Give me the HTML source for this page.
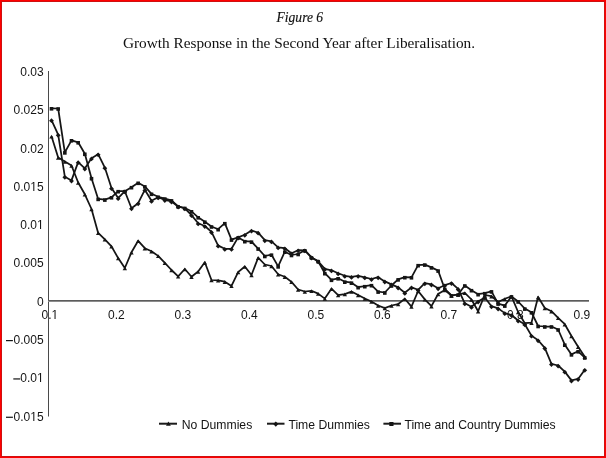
<!DOCTYPE html>
<html><head><meta charset="utf-8"><style>
html,body{margin:0;padding:0;background:#fff}
body{width:606px;height:458px;overflow:hidden;position:relative}
svg{position:absolute;left:0;top:0;will-change:transform}
</style></head><body>
<svg width="606" height="458" viewBox="0 0 606 458">
<rect x="0" y="0" width="606" height="458" fill="#fff"/>
<rect x="0.5" y="0.5" width="605" height="457" fill="none" stroke="#f00" stroke-width="1"/>
<rect x="1.5" y="1.5" width="603" height="455" fill="none" stroke="#d01010" stroke-width="1"/>
<text transform="translate(299.8 21.7) scale(0.91 1)" x="0" y="0" text-anchor="middle" font-family="'Liberation Serif', serif" font-style="italic" font-size="14.9" fill="#111" stroke="#111" stroke-width="0.15">Figure 6</text>
<text x="299" y="48.2" text-anchor="middle" font-family="'Liberation Serif', serif" font-size="15.3" fill="#111">Growth Response in the Second Year after Liberalisation.</text>
<g font-family="'Liberation Sans', sans-serif" font-size="12" fill="#141414"><text x="43.6" y="75.8" text-anchor="end">0.03</text><text x="43.6" y="114.1" text-anchor="end">0.025</text><text x="43.6" y="152.5" text-anchor="end">0.02</text><text x="43.6" y="190.8" text-anchor="end">0.015</text><text x="43.6" y="229.1" text-anchor="end">0.01</text><text x="43.6" y="267.4" text-anchor="end">0.005</text><text x="43.6" y="305.8" text-anchor="end">0</text><text x="43.6" y="344.1" text-anchor="end">0.005</text><rect x="6.0" y="340.01" width="6.9" height="1.2"/><text x="43.6" y="382.4" text-anchor="end">0.01</text><rect x="13.3" y="378.34" width="6.9" height="1.2"/><text x="43.6" y="420.8" text-anchor="end">0.015</text><rect x="6.0" y="416.67" width="6.9" height="1.2"/><text x="49.8" y="319" text-anchor="middle">0.1</text><text x="116.3" y="319" text-anchor="middle">0.2</text><text x="182.8" y="319" text-anchor="middle">0.3</text><text x="249.3" y="319" text-anchor="middle">0.4</text><text x="315.8" y="319" text-anchor="middle">0.5</text><text x="382.3" y="319" text-anchor="middle">0.6</text><text x="448.8" y="319" text-anchor="middle">0.7</text><text x="515.3" y="319" text-anchor="middle">0.8</text><text x="581.8" y="319" text-anchor="middle">0.9</text></g>
<rect x="48" y="71" width="1" height="345.5" fill="#4a4a4a"/>
<rect x="48" y="300" width="541" height="1" fill="#5c5c5c"/><rect x="48" y="301" width="541" height="1" fill="#8c8c8c"/>
<g fill="none" stroke="#151515" stroke-width="1.75" stroke-linejoin="round">
<polyline points="51.50,108.30 58.17,108.50 64.83,152.40 71.50,140.30 78.16,142.30 84.83,153.80 91.50,178.20 98.16,198.90 104.83,199.60 111.49,197.30 118.16,191.20 124.83,191.20 131.49,187.20 138.16,182.80 144.82,186.40 151.49,193.80 158.16,196.80 164.82,198.60 171.49,200.40 178.15,206.40 184.82,208.00 191.49,211.30 198.15,217.30 204.82,221.70 211.48,226.50 218.15,229.20 224.82,223.20 231.48,239.60 238.15,237.40 244.81,241.20 251.48,241.70 258.15,248.60 264.81,256.00 271.48,254.70 278.14,266.40 284.81,251.70 291.48,255.00 298.14,254.00 304.81,250.30 311.47,257.40 318.14,261.20 324.81,273.20 331.47,279.80 338.14,278.30 344.80,281.70 351.47,282.70 358.14,287.20 364.80,286.20 371.47,285.20 378.13,291.60 384.80,292.50 391.47,285.50 398.13,279.40 404.80,277.20 411.46,277.30 418.13,265.20 424.80,264.60 431.46,267.40 438.13,270.60 444.79,289.00 451.46,295.50 458.13,294.50 464.79,285.50 471.46,290.20 478.12,294.20 484.79,293.20 491.46,291.40 498.12,303.60 504.79,305.60 511.45,296.40 518.12,301.50 524.79,308.60 531.45,312.30 538.12,326.00 544.78,326.50 551.45,326.50 558.12,329.50 564.78,344.70 571.45,354.40 578.11,351.30 584.78,357.50"/>
<polyline points="51.50,120.10 58.17,134.70 64.83,176.70 71.50,180.40 78.16,162.10 84.83,168.40 91.50,158.30 98.16,154.20 104.83,167.60 111.49,188.10 118.16,198.10 124.83,191.20 131.49,208.20 138.16,203.20 144.82,189.80 151.49,200.80 158.16,197.30 164.82,199.90 171.49,201.50 178.15,206.50 184.82,208.30 191.49,215.10 198.15,223.30 204.82,226.00 211.48,231.90 218.15,245.60 224.82,248.80 231.48,248.80 238.15,237.40 244.81,234.70 251.48,230.60 258.15,232.60 264.81,240.20 271.48,241.30 278.14,247.30 284.81,248.20 291.48,253.30 298.14,250.20 304.81,250.30 311.47,257.40 318.14,261.20 324.81,268.90 331.47,270.30 338.14,273.30 344.80,275.80 351.47,276.80 358.14,275.80 364.80,277.30 371.47,279.00 378.13,277.20 384.80,281.40 391.47,284.40 398.13,287.40 404.80,292.80 411.46,287.40 418.13,289.80 424.80,283.20 431.46,284.40 438.13,288.20 444.79,285.20 451.46,283.00 458.13,288.90 464.79,303.30 471.46,306.80 478.12,301.50 484.79,297.50 491.46,306.20 498.12,308.40 504.79,313.10 511.45,315.00 518.12,320.50 524.79,324.20 531.45,335.60 538.12,340.20 544.78,347.90 551.45,363.90 558.12,365.50 564.78,371.60 571.45,380.40 578.11,378.90 584.78,369.70"/>
<polyline points="51.50,136.30 58.17,157.60 64.83,161.60 71.50,165.50 78.16,182.50 84.83,194.30 91.50,209.00 98.16,232.90 104.83,239.40 111.49,246.40 118.16,258.10 124.83,268.00 131.49,252.30 138.16,240.80 144.82,248.20 151.49,251.30 158.16,255.90 164.82,262.80 171.49,270.00 178.15,276.30 184.82,269.00 191.49,276.70 198.15,271.50 204.82,262.30 211.48,280.00 218.15,280.40 224.82,281.70 231.48,285.90 238.15,272.10 244.81,266.50 251.48,275.00 258.15,257.70 264.81,264.50 271.48,266.00 278.14,274.30 284.81,276.70 291.48,281.90 298.14,289.50 304.81,291.50 311.47,290.80 318.14,293.60 324.81,298.60 331.47,288.70 338.14,295.10 344.80,294.10 351.47,291.60 358.14,295.10 364.80,298.60 371.47,301.50 378.13,305.50 384.80,308.10 391.47,305.50 398.13,304.10 404.80,298.80 411.46,306.60 418.13,291.00 424.80,299.40 431.46,306.20 438.13,294.00 444.79,290.00 451.46,295.50 458.13,294.50 464.79,292.80 471.46,299.50 478.12,311.20 484.79,295.00 491.46,296.20 498.12,302.00 504.79,298.80 511.45,296.40 518.12,312.00 524.79,323.20 531.45,322.70 538.12,297.00 544.78,308.00 551.45,311.20 558.12,317.90 564.78,324.20 571.45,336.00 578.11,346.80 584.78,356.70"/>
</g>
<g fill="#151515"><rect x="49.70" y="107.00" width="3.6" height="3.6"/><rect x="56.37" y="107.20" width="3.6" height="3.6"/><rect x="63.03" y="151.10" width="3.6" height="3.6"/><rect x="69.70" y="139.00" width="3.6" height="3.6"/><rect x="76.36" y="141.00" width="3.6" height="3.6"/><rect x="83.03" y="152.50" width="3.6" height="3.6"/><rect x="89.70" y="176.90" width="3.6" height="3.6"/><rect x="96.36" y="197.60" width="3.6" height="3.6"/><rect x="103.03" y="198.30" width="3.6" height="3.6"/><rect x="109.69" y="196.00" width="3.6" height="3.6"/><rect x="116.36" y="189.90" width="3.6" height="3.6"/><rect x="123.03" y="189.90" width="3.6" height="3.6"/><rect x="129.69" y="185.90" width="3.6" height="3.6"/><rect x="136.36" y="181.50" width="3.6" height="3.6"/><rect x="143.02" y="185.10" width="3.6" height="3.6"/><rect x="149.69" y="192.50" width="3.6" height="3.6"/><rect x="156.36" y="195.50" width="3.6" height="3.6"/><rect x="163.02" y="197.30" width="3.6" height="3.6"/><rect x="169.69" y="199.10" width="3.6" height="3.6"/><rect x="176.35" y="205.10" width="3.6" height="3.6"/><rect x="183.02" y="206.70" width="3.6" height="3.6"/><rect x="189.69" y="210.00" width="3.6" height="3.6"/><rect x="196.35" y="216.00" width="3.6" height="3.6"/><rect x="203.02" y="220.40" width="3.6" height="3.6"/><rect x="209.68" y="225.20" width="3.6" height="3.6"/><rect x="216.35" y="227.90" width="3.6" height="3.6"/><rect x="223.02" y="221.90" width="3.6" height="3.6"/><rect x="229.68" y="238.30" width="3.6" height="3.6"/><rect x="236.35" y="236.10" width="3.6" height="3.6"/><rect x="243.01" y="239.90" width="3.6" height="3.6"/><rect x="249.68" y="240.40" width="3.6" height="3.6"/><rect x="256.35" y="247.30" width="3.6" height="3.6"/><rect x="263.01" y="254.70" width="3.6" height="3.6"/><rect x="269.68" y="253.40" width="3.6" height="3.6"/><rect x="276.34" y="265.10" width="3.6" height="3.6"/><rect x="283.01" y="250.40" width="3.6" height="3.6"/><rect x="289.68" y="253.70" width="3.6" height="3.6"/><rect x="296.34" y="252.70" width="3.6" height="3.6"/><rect x="303.01" y="249.00" width="3.6" height="3.6"/><rect x="309.67" y="256.10" width="3.6" height="3.6"/><rect x="316.34" y="259.90" width="3.6" height="3.6"/><rect x="323.01" y="271.90" width="3.6" height="3.6"/><rect x="329.67" y="278.50" width="3.6" height="3.6"/><rect x="336.34" y="277.00" width="3.6" height="3.6"/><rect x="343.00" y="280.40" width="3.6" height="3.6"/><rect x="349.67" y="281.40" width="3.6" height="3.6"/><rect x="356.34" y="285.90" width="3.6" height="3.6"/><rect x="363.00" y="284.90" width="3.6" height="3.6"/><rect x="369.67" y="283.90" width="3.6" height="3.6"/><rect x="376.33" y="290.30" width="3.6" height="3.6"/><rect x="383.00" y="291.20" width="3.6" height="3.6"/><rect x="389.67" y="284.20" width="3.6" height="3.6"/><rect x="396.33" y="278.10" width="3.6" height="3.6"/><rect x="403.00" y="275.90" width="3.6" height="3.6"/><rect x="409.66" y="276.00" width="3.6" height="3.6"/><rect x="416.33" y="263.90" width="3.6" height="3.6"/><rect x="423.00" y="263.30" width="3.6" height="3.6"/><rect x="429.66" y="266.10" width="3.6" height="3.6"/><rect x="436.33" y="269.30" width="3.6" height="3.6"/><rect x="442.99" y="287.70" width="3.6" height="3.6"/><rect x="449.66" y="294.20" width="3.6" height="3.6"/><rect x="456.33" y="293.20" width="3.6" height="3.6"/><rect x="462.99" y="284.20" width="3.6" height="3.6"/><rect x="469.66" y="288.90" width="3.6" height="3.6"/><rect x="476.32" y="292.90" width="3.6" height="3.6"/><rect x="482.99" y="291.90" width="3.6" height="3.6"/><rect x="489.66" y="290.10" width="3.6" height="3.6"/><rect x="496.32" y="302.30" width="3.6" height="3.6"/><rect x="502.99" y="304.30" width="3.6" height="3.6"/><rect x="509.65" y="295.10" width="3.6" height="3.6"/><rect x="516.32" y="300.20" width="3.6" height="3.6"/><rect x="522.99" y="307.30" width="3.6" height="3.6"/><rect x="529.65" y="311.00" width="3.6" height="3.6"/><rect x="536.32" y="324.70" width="3.6" height="3.6"/><rect x="542.98" y="325.20" width="3.6" height="3.6"/><rect x="549.65" y="325.20" width="3.6" height="3.6"/><rect x="556.32" y="328.20" width="3.6" height="3.6"/><rect x="562.98" y="343.40" width="3.6" height="3.6"/><rect x="569.65" y="353.10" width="3.6" height="3.6"/><rect x="576.31" y="350.00" width="3.6" height="3.6"/><rect x="582.98" y="356.20" width="3.6" height="3.6"/><path d="M51.50 118.30l2.4 2.4l-2.4 2.4l-2.4-2.4z"/><path d="M58.17 132.90l2.4 2.4l-2.4 2.4l-2.4-2.4z"/><path d="M64.83 174.90l2.4 2.4l-2.4 2.4l-2.4-2.4z"/><path d="M71.50 178.60l2.4 2.4l-2.4 2.4l-2.4-2.4z"/><path d="M78.16 160.30l2.4 2.4l-2.4 2.4l-2.4-2.4z"/><path d="M84.83 166.60l2.4 2.4l-2.4 2.4l-2.4-2.4z"/><path d="M91.50 156.50l2.4 2.4l-2.4 2.4l-2.4-2.4z"/><path d="M98.16 152.40l2.4 2.4l-2.4 2.4l-2.4-2.4z"/><path d="M104.83 165.80l2.4 2.4l-2.4 2.4l-2.4-2.4z"/><path d="M111.49 186.30l2.4 2.4l-2.4 2.4l-2.4-2.4z"/><path d="M118.16 196.30l2.4 2.4l-2.4 2.4l-2.4-2.4z"/><path d="M124.83 189.40l2.4 2.4l-2.4 2.4l-2.4-2.4z"/><path d="M131.49 206.40l2.4 2.4l-2.4 2.4l-2.4-2.4z"/><path d="M138.16 201.40l2.4 2.4l-2.4 2.4l-2.4-2.4z"/><path d="M144.82 188.00l2.4 2.4l-2.4 2.4l-2.4-2.4z"/><path d="M151.49 199.00l2.4 2.4l-2.4 2.4l-2.4-2.4z"/><path d="M158.16 195.50l2.4 2.4l-2.4 2.4l-2.4-2.4z"/><path d="M164.82 198.10l2.4 2.4l-2.4 2.4l-2.4-2.4z"/><path d="M171.49 199.70l2.4 2.4l-2.4 2.4l-2.4-2.4z"/><path d="M178.15 204.70l2.4 2.4l-2.4 2.4l-2.4-2.4z"/><path d="M184.82 206.50l2.4 2.4l-2.4 2.4l-2.4-2.4z"/><path d="M191.49 213.30l2.4 2.4l-2.4 2.4l-2.4-2.4z"/><path d="M198.15 221.50l2.4 2.4l-2.4 2.4l-2.4-2.4z"/><path d="M204.82 224.20l2.4 2.4l-2.4 2.4l-2.4-2.4z"/><path d="M211.48 230.10l2.4 2.4l-2.4 2.4l-2.4-2.4z"/><path d="M218.15 243.80l2.4 2.4l-2.4 2.4l-2.4-2.4z"/><path d="M224.82 247.00l2.4 2.4l-2.4 2.4l-2.4-2.4z"/><path d="M231.48 247.00l2.4 2.4l-2.4 2.4l-2.4-2.4z"/><path d="M238.15 235.60l2.4 2.4l-2.4 2.4l-2.4-2.4z"/><path d="M244.81 232.90l2.4 2.4l-2.4 2.4l-2.4-2.4z"/><path d="M251.48 228.80l2.4 2.4l-2.4 2.4l-2.4-2.4z"/><path d="M258.15 230.80l2.4 2.4l-2.4 2.4l-2.4-2.4z"/><path d="M264.81 238.40l2.4 2.4l-2.4 2.4l-2.4-2.4z"/><path d="M271.48 239.50l2.4 2.4l-2.4 2.4l-2.4-2.4z"/><path d="M278.14 245.50l2.4 2.4l-2.4 2.4l-2.4-2.4z"/><path d="M284.81 246.40l2.4 2.4l-2.4 2.4l-2.4-2.4z"/><path d="M291.48 251.50l2.4 2.4l-2.4 2.4l-2.4-2.4z"/><path d="M298.14 248.40l2.4 2.4l-2.4 2.4l-2.4-2.4z"/><path d="M304.81 248.50l2.4 2.4l-2.4 2.4l-2.4-2.4z"/><path d="M311.47 255.60l2.4 2.4l-2.4 2.4l-2.4-2.4z"/><path d="M318.14 259.40l2.4 2.4l-2.4 2.4l-2.4-2.4z"/><path d="M324.81 267.10l2.4 2.4l-2.4 2.4l-2.4-2.4z"/><path d="M331.47 268.50l2.4 2.4l-2.4 2.4l-2.4-2.4z"/><path d="M338.14 271.50l2.4 2.4l-2.4 2.4l-2.4-2.4z"/><path d="M344.80 274.00l2.4 2.4l-2.4 2.4l-2.4-2.4z"/><path d="M351.47 275.00l2.4 2.4l-2.4 2.4l-2.4-2.4z"/><path d="M358.14 274.00l2.4 2.4l-2.4 2.4l-2.4-2.4z"/><path d="M364.80 275.50l2.4 2.4l-2.4 2.4l-2.4-2.4z"/><path d="M371.47 277.20l2.4 2.4l-2.4 2.4l-2.4-2.4z"/><path d="M378.13 275.40l2.4 2.4l-2.4 2.4l-2.4-2.4z"/><path d="M384.80 279.60l2.4 2.4l-2.4 2.4l-2.4-2.4z"/><path d="M391.47 282.60l2.4 2.4l-2.4 2.4l-2.4-2.4z"/><path d="M398.13 285.60l2.4 2.4l-2.4 2.4l-2.4-2.4z"/><path d="M404.80 291.00l2.4 2.4l-2.4 2.4l-2.4-2.4z"/><path d="M411.46 285.60l2.4 2.4l-2.4 2.4l-2.4-2.4z"/><path d="M418.13 288.00l2.4 2.4l-2.4 2.4l-2.4-2.4z"/><path d="M424.80 281.40l2.4 2.4l-2.4 2.4l-2.4-2.4z"/><path d="M431.46 282.60l2.4 2.4l-2.4 2.4l-2.4-2.4z"/><path d="M438.13 286.40l2.4 2.4l-2.4 2.4l-2.4-2.4z"/><path d="M444.79 283.40l2.4 2.4l-2.4 2.4l-2.4-2.4z"/><path d="M451.46 281.20l2.4 2.4l-2.4 2.4l-2.4-2.4z"/><path d="M458.13 287.10l2.4 2.4l-2.4 2.4l-2.4-2.4z"/><path d="M464.79 301.50l2.4 2.4l-2.4 2.4l-2.4-2.4z"/><path d="M471.46 305.00l2.4 2.4l-2.4 2.4l-2.4-2.4z"/><path d="M478.12 299.70l2.4 2.4l-2.4 2.4l-2.4-2.4z"/><path d="M484.79 295.70l2.4 2.4l-2.4 2.4l-2.4-2.4z"/><path d="M491.46 304.40l2.4 2.4l-2.4 2.4l-2.4-2.4z"/><path d="M498.12 306.60l2.4 2.4l-2.4 2.4l-2.4-2.4z"/><path d="M504.79 311.30l2.4 2.4l-2.4 2.4l-2.4-2.4z"/><path d="M511.45 313.20l2.4 2.4l-2.4 2.4l-2.4-2.4z"/><path d="M518.12 318.70l2.4 2.4l-2.4 2.4l-2.4-2.4z"/><path d="M524.79 322.40l2.4 2.4l-2.4 2.4l-2.4-2.4z"/><path d="M531.45 333.80l2.4 2.4l-2.4 2.4l-2.4-2.4z"/><path d="M538.12 338.40l2.4 2.4l-2.4 2.4l-2.4-2.4z"/><path d="M544.78 346.10l2.4 2.4l-2.4 2.4l-2.4-2.4z"/><path d="M551.45 362.10l2.4 2.4l-2.4 2.4l-2.4-2.4z"/><path d="M558.12 363.70l2.4 2.4l-2.4 2.4l-2.4-2.4z"/><path d="M564.78 369.80l2.4 2.4l-2.4 2.4l-2.4-2.4z"/><path d="M571.45 378.60l2.4 2.4l-2.4 2.4l-2.4-2.4z"/><path d="M578.11 377.10l2.4 2.4l-2.4 2.4l-2.4-2.4z"/><path d="M584.78 367.90l2.4 2.4l-2.4 2.4l-2.4-2.4z"/><path d="M51.50 134.70l2.2 3.8l-4.4 0z"/><path d="M58.17 156.00l2.2 3.8l-4.4 0z"/><path d="M64.83 160.00l2.2 3.8l-4.4 0z"/><path d="M71.50 163.90l2.2 3.8l-4.4 0z"/><path d="M78.16 180.90l2.2 3.8l-4.4 0z"/><path d="M84.83 192.70l2.2 3.8l-4.4 0z"/><path d="M91.50 207.40l2.2 3.8l-4.4 0z"/><path d="M98.16 231.30l2.2 3.8l-4.4 0z"/><path d="M104.83 237.80l2.2 3.8l-4.4 0z"/><path d="M111.49 244.80l2.2 3.8l-4.4 0z"/><path d="M118.16 256.50l2.2 3.8l-4.4 0z"/><path d="M124.83 266.40l2.2 3.8l-4.4 0z"/><path d="M131.49 250.70l2.2 3.8l-4.4 0z"/><path d="M138.16 239.20l2.2 3.8l-4.4 0z"/><path d="M144.82 246.60l2.2 3.8l-4.4 0z"/><path d="M151.49 249.70l2.2 3.8l-4.4 0z"/><path d="M158.16 254.30l2.2 3.8l-4.4 0z"/><path d="M164.82 261.20l2.2 3.8l-4.4 0z"/><path d="M171.49 268.40l2.2 3.8l-4.4 0z"/><path d="M178.15 274.70l2.2 3.8l-4.4 0z"/><path d="M184.82 267.40l2.2 3.8l-4.4 0z"/><path d="M191.49 275.10l2.2 3.8l-4.4 0z"/><path d="M198.15 269.90l2.2 3.8l-4.4 0z"/><path d="M204.82 260.70l2.2 3.8l-4.4 0z"/><path d="M211.48 278.40l2.2 3.8l-4.4 0z"/><path d="M218.15 278.80l2.2 3.8l-4.4 0z"/><path d="M224.82 280.10l2.2 3.8l-4.4 0z"/><path d="M231.48 284.30l2.2 3.8l-4.4 0z"/><path d="M238.15 270.50l2.2 3.8l-4.4 0z"/><path d="M244.81 264.90l2.2 3.8l-4.4 0z"/><path d="M251.48 273.40l2.2 3.8l-4.4 0z"/><path d="M258.15 256.10l2.2 3.8l-4.4 0z"/><path d="M264.81 262.90l2.2 3.8l-4.4 0z"/><path d="M271.48 264.40l2.2 3.8l-4.4 0z"/><path d="M278.14 272.70l2.2 3.8l-4.4 0z"/><path d="M284.81 275.10l2.2 3.8l-4.4 0z"/><path d="M291.48 280.30l2.2 3.8l-4.4 0z"/><path d="M298.14 287.90l2.2 3.8l-4.4 0z"/><path d="M304.81 289.90l2.2 3.8l-4.4 0z"/><path d="M311.47 289.20l2.2 3.8l-4.4 0z"/><path d="M318.14 292.00l2.2 3.8l-4.4 0z"/><path d="M324.81 297.00l2.2 3.8l-4.4 0z"/><path d="M331.47 287.10l2.2 3.8l-4.4 0z"/><path d="M338.14 293.50l2.2 3.8l-4.4 0z"/><path d="M344.80 292.50l2.2 3.8l-4.4 0z"/><path d="M351.47 290.00l2.2 3.8l-4.4 0z"/><path d="M358.14 293.50l2.2 3.8l-4.4 0z"/><path d="M364.80 297.00l2.2 3.8l-4.4 0z"/><path d="M371.47 299.90l2.2 3.8l-4.4 0z"/><path d="M378.13 303.90l2.2 3.8l-4.4 0z"/><path d="M384.80 306.50l2.2 3.8l-4.4 0z"/><path d="M391.47 303.90l2.2 3.8l-4.4 0z"/><path d="M398.13 302.50l2.2 3.8l-4.4 0z"/><path d="M404.80 297.20l2.2 3.8l-4.4 0z"/><path d="M411.46 305.00l2.2 3.8l-4.4 0z"/><path d="M418.13 289.40l2.2 3.8l-4.4 0z"/><path d="M424.80 297.80l2.2 3.8l-4.4 0z"/><path d="M431.46 304.60l2.2 3.8l-4.4 0z"/><path d="M438.13 292.40l2.2 3.8l-4.4 0z"/><path d="M444.79 288.40l2.2 3.8l-4.4 0z"/><path d="M451.46 293.90l2.2 3.8l-4.4 0z"/><path d="M458.13 292.90l2.2 3.8l-4.4 0z"/><path d="M464.79 291.20l2.2 3.8l-4.4 0z"/><path d="M471.46 297.90l2.2 3.8l-4.4 0z"/><path d="M478.12 309.60l2.2 3.8l-4.4 0z"/><path d="M484.79 293.40l2.2 3.8l-4.4 0z"/><path d="M491.46 294.60l2.2 3.8l-4.4 0z"/><path d="M498.12 300.40l2.2 3.8l-4.4 0z"/><path d="M504.79 297.20l2.2 3.8l-4.4 0z"/><path d="M511.45 294.80l2.2 3.8l-4.4 0z"/><path d="M518.12 310.40l2.2 3.8l-4.4 0z"/><path d="M524.79 321.60l2.2 3.8l-4.4 0z"/><path d="M531.45 321.10l2.2 3.8l-4.4 0z"/><path d="M538.12 295.40l2.2 3.8l-4.4 0z"/><path d="M544.78 306.40l2.2 3.8l-4.4 0z"/><path d="M551.45 309.60l2.2 3.8l-4.4 0z"/><path d="M558.12 316.30l2.2 3.8l-4.4 0z"/><path d="M564.78 322.60l2.2 3.8l-4.4 0z"/><path d="M571.45 334.40l2.2 3.8l-4.4 0z"/><path d="M578.11 345.20l2.2 3.8l-4.4 0z"/><path d="M584.78 355.10l2.2 3.8l-4.4 0z"/></g>
<g stroke="#1c1c1c" stroke-width="2"><line x1="159" y1="423.7" x2="177" y2="423.7"/><line x1="267" y1="423.7" x2="284.5" y2="423.7"/><line x1="383.4" y1="423.7" x2="401" y2="423.7"/></g>
<g fill="#151515"><path d="M168.4 421.6l2.4 4.2l-4.8 0z"/><path d="M275.8 421.4l2.6 2.7l-2.6 2.7l-2.6-2.7z"/><rect x="389.3" y="422" width="4.2" height="4"/></g>
<g font-family="'Liberation Sans', sans-serif" font-size="12.2" fill="#141414"><text x="181.8" y="429">No Dummies</text><text x="288.4" y="429">Time Dummies</text><text x="404.4" y="429">Time and Country Dummies</text></g>
<rect x="31" y="190" width="1" height="1" fill="#fff" fill-opacity="1.000"/><rect x="32" y="190" width="1" height="1" fill="#fff" fill-opacity="1.000"/><rect x="33" y="190" width="1" height="1" fill="#fff" fill-opacity="0.281"/><rect x="34" y="190" width="1" height="1" fill="#fff" fill-opacity="0.672"/><rect x="35" y="190" width="1" height="1" fill="#fff" fill-opacity="1.000"/><rect x="36" y="190" width="1" height="1" fill="#fff" fill-opacity="1.000"/><rect x="37" y="228" width="1" height="1" fill="#fff" fill-opacity="1.000"/><rect x="38" y="228" width="1" height="1" fill="#fff" fill-opacity="1.000"/><rect x="39" y="228" width="1" height="1" fill="#fff" fill-opacity="1.000"/><rect x="40" y="228" width="1" height="1" fill="#fff" fill-opacity="0.017"/><rect x="41" y="228" width="1" height="1" fill="#fff" fill-opacity="0.919"/><rect x="42" y="228" width="1" height="1" fill="#fff" fill-opacity="1.000"/><rect x="43" y="228" width="1" height="1" fill="#fff" fill-opacity="1.000"/><rect x="37" y="381" width="1" height="1" fill="#fff" fill-opacity="1.000"/><rect x="38" y="381" width="1" height="1" fill="#fff" fill-opacity="1.000"/><rect x="39" y="381" width="1" height="1" fill="#fff" fill-opacity="1.000"/><rect x="40" y="381" width="1" height="1" fill="#fff" fill-opacity="0.017"/><rect x="41" y="381" width="1" height="1" fill="#fff" fill-opacity="0.919"/><rect x="42" y="381" width="1" height="1" fill="#fff" fill-opacity="1.000"/><rect x="43" y="381" width="1" height="1" fill="#fff" fill-opacity="1.000"/><rect x="31" y="420" width="1" height="1" fill="#fff" fill-opacity="1.000"/><rect x="32" y="420" width="1" height="1" fill="#fff" fill-opacity="1.000"/><rect x="33" y="420" width="1" height="1" fill="#fff" fill-opacity="0.281"/><rect x="34" y="420" width="1" height="1" fill="#fff" fill-opacity="0.672"/><rect x="35" y="420" width="1" height="1" fill="#fff" fill-opacity="1.000"/><rect x="36" y="420" width="1" height="1" fill="#fff" fill-opacity="1.000"/><rect x="52" y="318" width="1" height="1" fill="#fff" fill-opacity="1.000"/><rect x="53" y="318" width="1" height="1" fill="#fff" fill-opacity="1.000"/><rect x="54" y="318" width="1" height="1" fill="#fff" fill-opacity="0.523"/><rect x="55" y="318" width="1" height="1" fill="#fff" fill-opacity="0.434"/><rect x="56" y="318" width="1" height="1" fill="#fff" fill-opacity="1.000"/><rect x="57" y="318" width="1" height="1" fill="#fff" fill-opacity="1.000"/>
</svg>
</body></html>
